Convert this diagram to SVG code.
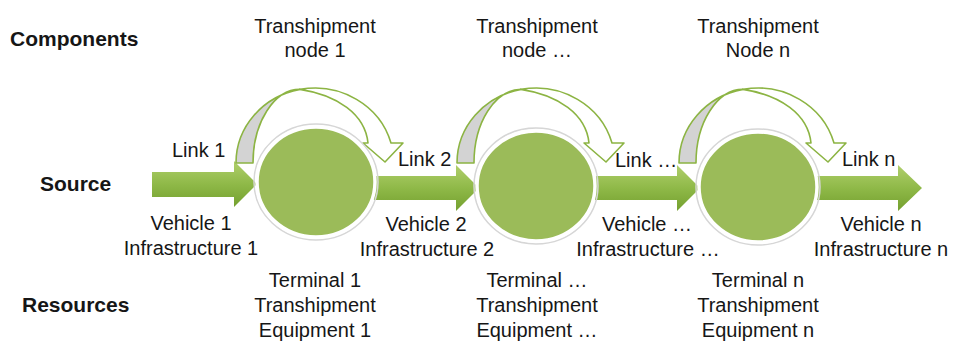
<svg xmlns="http://www.w3.org/2000/svg" width="954" height="341" viewBox="0 0 954 341">
<style>
.t{font-family:"Liberation Sans",Arial,sans-serif;font-size:20px;fill:#161616;text-anchor:middle}
.b{font-family:"Liberation Sans",Arial,sans-serif;font-size:21px;font-weight:bold;fill:#161616}
.ls{font-family:"Liberation Sans",Arial,sans-serif;font-size:20px;fill:#161616}
.back{fill:#d3d3d3;stroke:#8cb443;stroke-width:1.6;stroke-linejoin:round}
.front{fill:#ffffff;stroke:#8cb443;stroke-width:1.6;stroke-linejoin:round}
.arr{fill:url(#g)}
.node{fill:#9bbb59;stroke:#ffffff;stroke-width:3.5}
.shadow{fill:none;stroke:#d6d6d6;stroke-width:1.5}
</style>
<defs>
<linearGradient id="g" x1="0" y1="0" x2="0" y2="1">
<stop offset="0" stop-color="#b0cf6c"/>
<stop offset="0.5" stop-color="#8fb948"/>
<stop offset="1" stop-color="#74a02f"/>
</linearGradient>
<g id="loop">
<path class="back" d="M -79,163 A 79 75 0 0 1 -15,89.4 A 47 73.6 0 0 0 -62,163 Z"/>
<path class="front" d="M -15,89.4 A 79 75 0 0 1 76,143 L 88,143 L 70,162 L 48,143 L 53,143 C 50,114 22,95 -15,89.4 Z"/>
</g>
</defs>
<rect width="954" height="341" fill="#ffffff"/>

<g id="connectors">
<path class="arr" d="M152,172 H234 V161 L257,184 L234,207 V197 H152 Z"/>
<path class="arr" d="M370,176 H456 V165 L479,188 L456,211 V200 H370 Z"/>
<path class="arr" d="M592,176 H677 V165 L700,188 L677,211 V200 H592 Z"/>
<path class="arr" d="M815,176 H898 V165 L922,188 L898,211 V200 H815 Z"/>
<use href="#loop" x="315" y="0"/>
<use href="#loop" x="536" y="0"/>
<use href="#loop" x="758" y="0"/>
</g>

<g id="node1">
<ellipse class="shadow" cx="316" cy="182" rx="62" ry="58"/>
<ellipse class="node" cx="316" cy="182" rx="59" ry="55"/>
<text class="t" x="315" y="33">Transhipment</text>
<text class="t" x="315" y="57">node 1</text>
<text class="t" x="315" y="287">Terminal 1</text>
<text class="t" x="315" y="312">Transhipment</text>
<text class="t" x="315" y="337">Equipment 1</text>
</g>
<g id="node2">
<ellipse class="shadow" cx="536" cy="186" rx="62" ry="58"/>
<ellipse class="node" cx="536" cy="186" rx="59" ry="55"/>
<text class="t" x="537" y="33">Transhipment</text>
<text class="t" x="537" y="57">node …</text>
<text class="t" x="537" y="287">Terminal …</text>
<text class="t" x="537" y="312">Transhipment</text>
<text class="t" x="537" y="337">Equipment …</text>
</g>
<g id="node3">
<ellipse class="shadow" cx="758" cy="187" rx="62" ry="58"/>
<ellipse class="node" cx="758" cy="187" rx="59" ry="55"/>
<text class="t" x="758" y="33">Transhipment</text>
<text class="t" x="758" y="57">Node n</text>
<text class="t" x="758" y="287">Terminal n</text>
<text class="t" x="758" y="312">Transhipment</text>
<text class="t" x="758" y="337">Equipment n</text>
</g>

<g id="labels">
<text class="b" x="10" y="46">Components</text>
<text class="b" x="40" y="191">Source</text>
<text class="b" x="22" y="312">Resources</text>
<text class="ls" x="172" y="157">Link 1</text>
<text class="ls" x="398" y="166">Link 2</text>
<text class="ls" x="615" y="167">Link …</text>
<text class="ls" x="842" y="166">Link n</text>
<text class="t" x="191" y="230">Vehicle 1</text>
<text class="t" x="191" y="255">Infrastructure 1</text>
<text class="t" x="426" y="231">Vehicle 2</text>
<text class="t" x="427" y="256">Infrastructure 2</text>
<text class="t" x="647" y="231">Vehicle …</text>
<text class="t" x="648" y="256">Infrastructure …</text>
<text class="t" x="881" y="231">Vehicle n</text>
<text class="t" x="881" y="256">Infrastructure n</text>
</g>
</svg>
